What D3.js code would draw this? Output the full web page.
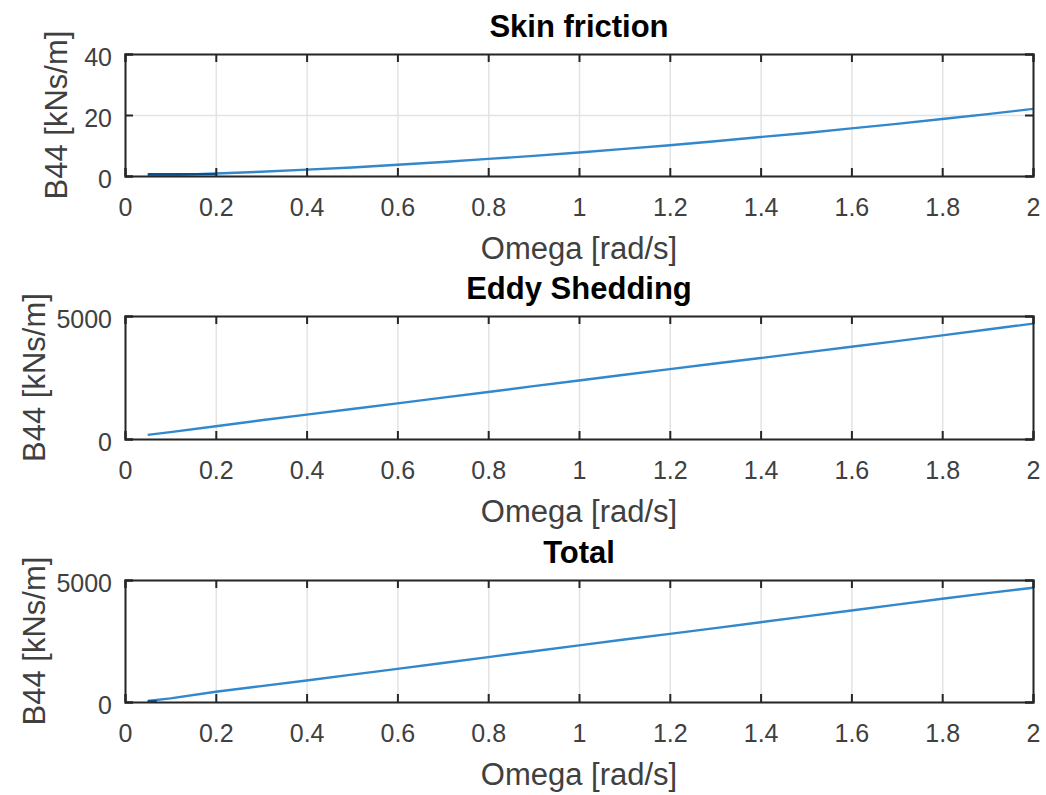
<!DOCTYPE html>
<html>
<head>
<meta charset="utf-8">
<script src="https://cdn.jsdelivr.net/npm/d3@7"></script>
<style>
  body { margin: 0; background: #fff; }
  svg { display: block; font-family: "Liberation Sans", Arial, sans-serif; }
</style>
</head>
<body>
<script>
// omega [rad/s] and B44 values
const omega = [0.05, 0.1, 0.2, 0.3, 0.4, 0.5, 0.6, 0.7, 0.8, 0.9, 1.0,
               1.1, 1.2, 1.3, 1.4, 1.5, 1.6, 1.7, 1.8, 1.9, 2.0]
const skin = [0.1, 0.3, 0.8, 1.4, 2.1, 2.8, 3.7, 4.6, 5.6, 6.6, 7.7,
              8.9, 10.1, 11.4, 12.8, 14.1, 15.6, 17.1, 18.7, 20.3, 22.0]
const eddy = [170, 280, 520, 760, 990, 1220, 1450, 1680, 1910, 2150, 2380,
              2610, 2840, 3070, 3290, 3520, 3750, 3980, 4210, 4450, 4690]
const total = [40, 150, 420, 650, 880, 1120, 1360, 1600, 1840, 2080, 2320,
               2560, 2790, 3030, 3270, 3510, 3750, 3990, 4230, 4460, 4680]

// short darker segments at the start of some curves
const skinLowOmega = [0.05, 0.2]
const skinLow = [0.6, 0.6]
const totalLowOmega = [0.05, 0.07]
const totalLow = [30, 30]

const xTicks = [0, 0.2, 0.4, 0.6, 0.8, 1, 1.2, 1.4, 1.6, 1.8, 2]
const titles = ["Skin friction", "Eddy Shedding", "Total"]
const yTicksSkin = [0, 20, 40]
const yTicksBig = [0, 5000]

const W = 1046, H = 795
const left = 125, right = 1033
const panels = [
    { title: titles[0], top: 54, bottom: 176, ymax: 40, yt: yTicksSkin, y: skin, lowX: skinLowOmega, lowY: skinLow, labX: 67 },
    { title: titles[1], top: 316, bottom: 439, ymax: 5000, yt: yTicksBig, y: eddy, labX: 45 },
    { title: titles[2], top: 580, bottom: 702, ymax: 5000, yt: yTicksBig, y: total, lowX: totalLowOmega, lowY: totalLow, labX: 45 }
]

const axisCol = "#262626"
const textCol = "#404040"
const gridCol = "#e3e3e3"
const lineCol = "#3288cc"
const darkCol = "#0b4f8c"

const svg = d3.select("body").append("svg").attr("width", W).attr("height", H)

panels.forEach(p => {
    let h = p.bottom - p.top
    let x = d3.scaleLinear().domain([0, 2]).range([left, right])
    let y = d3.scaleLinear().domain([0, p.ymax]).range([p.bottom, p.top])
    let g = svg.append("g")

    // grid
    g.append("g").attr("transform", `translate(0,${p.bottom})`)
        .call(d3.axisBottom(x).tickValues(xTicks).tickSize(-h).tickFormat(""))
        .call(a => a.select(".domain").remove())
        .selectAll("line").attr("stroke", gridCol).attr("stroke-width", 1.5)
    g.append("g").attr("transform", `translate(${left},0)`)
        .call(d3.axisLeft(y).tickValues(p.yt).tickSize(-(right - left)).tickFormat(""))
        .call(a => a.select(".domain").remove())
        .selectAll("line").attr("stroke", gridCol).attr("stroke-width", 1.5)

    // data line
    let line = d3.line().x((d, i) => x(omega[i])).y(d => y(d))
    g.append("path").datum(p.y).attr("d", line)
        .attr("fill", "none").attr("stroke", lineCol).attr("stroke-width", 2.4)
    if (p.lowX) {
        let line2 = d3.line().x((d, i) => x(p.lowX[i])).y(d => y(d))
        g.append("path").datum(p.lowY).attr("d", line2)
            .attr("fill", "none").attr("stroke", darkCol).attr("stroke-width", 2.4)
    }

    // axes with inward ticks
    let bottomAx = g.append("g").attr("transform", `translate(0,${p.bottom})`)
        .call(d3.axisBottom(x).tickValues(xTicks).tickSize(-8).tickPadding(22).tickFormat(d3.format("")))
    let topAx = g.append("g").attr("transform", `translate(0,${p.top})`)
        .call(d3.axisTop(x).tickValues(xTicks).tickSize(-8).tickFormat(""))
    let leftAx = g.append("g").attr("transform", `translate(${left},0)`)
        .call(d3.axisLeft(y).tickValues(p.yt).tickSize(-8).tickPadding(13).tickFormat(d3.format("")))
    let rightAx = g.append("g").attr("transform", `translate(${right},0)`)
        .call(d3.axisRight(y).tickValues(p.yt).tickSize(-8).tickFormat(""))

    ;[bottomAx, topAx, leftAx, rightAx].forEach(a => {
        a.select(".domain").attr("stroke", axisCol).attr("stroke-width", 2)
        a.selectAll(".tick line").attr("stroke", axisCol).attr("stroke-width", 2)
        a.selectAll("text").attr("fill", textCol).style("font-size", "25px")
            .style("font-family", "Liberation Sans, Arial, sans-serif")
    })
    bottomAx.selectAll("text").attr("dy", "0.71em")
    leftAx.selectAll("text").attr("dy", "0.45em")

    // title
    g.append("text").attr("x", (left + right) / 2).attr("y", p.top - 17)
        .attr("text-anchor", "middle").attr("font-weight", "bold")
        .attr("font-size", 31).attr("fill", "#000").text(p.title)

    // axis labels
    g.append("text").attr("x", (left + right) / 2).attr("y", p.bottom + 83)
        .attr("text-anchor", "middle").attr("font-size", 31).attr("fill", textCol)
        .text("Omega [rad/s]")
    g.append("text")
        .attr("transform", `translate(${p.labX},${(p.top + p.bottom) / 2}) rotate(-90)`)
        .attr("text-anchor", "middle").attr("font-size", 31).attr("fill", textCol)
        .text("B44 [kNs/m]")
})
</script>
</body>
</html>
